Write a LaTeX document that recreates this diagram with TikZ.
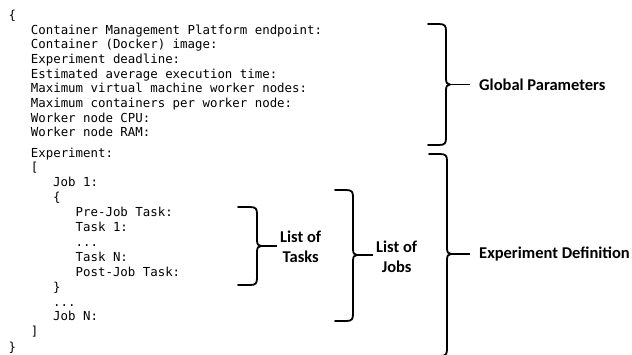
\documentclass[tikz,border=0pt]{standalone}
\usepackage{fontspec}
\newfontfamily\codefont{DejaVu Sans Mono}
\newfontfamily\labelfont{Carlito}
\tikzset{
  code/.style={anchor=west, inner sep=0pt, font=\codefont\fontsize{12.4}{14}\selectfont, text height=8pt, text depth=0pt, text=black},
  lbl/.style={inner sep=0pt, font=\labelfont\bfseries\fontsize{16.5}{20}\selectfont, align=center},
  brc/.style={line width=1.8pt, line cap=round, line join=round},
  tick/.style={line width=1.8pt},
}
% #1 left x, #2 vertical x, #3 top y, #4 middle y, #5 bottom y, #6 tip name
\newcommand\drawbrace[6]{%
  \draw[brc] (#1,#3) -- ({#2-7},#3) .. controls ({#2-1},#3) and (#2,{#3+2}) .. (#2,{#3+7})
    -- (#2,{#4-6}) .. controls (#2,{#4-2}) and ({#2+1},#4) .. ({#2+4},#4)
    .. controls ({#2+1},#4) and (#2,{#4+2}) .. (#2,{#4+6})
    -- (#2,{#5-7}) .. controls (#2,{#5-2}) and ({#2-1},#5) .. ({#2-7},#5) -- (#1,#5);
  \coordinate (#6) at ({#2+3},#4);
}
\begin{document}
\begin{tikzpicture}[x=1pt,y=-1pt]
\useasboundingbox (0,0) rectangle (632,354);
\clip (0,0) rectangle (632,354);
% code text
\node[code] (c0) at (8.4,15.5) {\{};
\node[code] (c1) at (30.7,30) {Container Management Platform endpoint:};
\node[code] (c2) at (30.7,44.7) {Container (Docker) image:};
\node[code] (c3) at (30.7,59.4) {Experiment deadline:};
\node[code] (c4) at (30.7,74.1) {Estimated average execution time:};
\node[code] (c5) at (30.7,88.8) {Maximum virtual machine worker nodes:};
\node[code] (c6) at (30.7,103.5) {Maximum containers per worker node:};
\node[code] (c7) at (30.7,118.2) {Worker node CPU:};
\node[code] (c8) at (30.7,132.9) {Worker node RAM:};
\node[code] (c9) at (30.7,153) {Experiment:};
\node[code] (c10) at (30.7,167.9) {[};
\node[code] (c11) at (53,182.8) {Job 1:};
\node[code] (c12) at (53,197.7) {\{};
\node[code] (c13) at (75.5,212.6) {Pre-Job Task:};
\node[code] (c14) at (75.5,227.5) {Task 1:};
\node[code] (c15) at (75.5,242.4) {...};
\node[code] (c16) at (75.5,257.3) {Task N:};
\node[code] (c17) at (75.5,272.2) {Post-Job Task:};
\node[code] (c18) at (53,287.1) {\}};
\node[code] (c19) at (53,302) {...};
\node[code] (c20) at (53,316.9) {Job N:};
\node[code] (c21) at (30.7,331.8) {]};
\node[code] (c22) at (8.4,347.5) {\}};
% braces
\drawbrace{428}{446}{24}{84.5}{145}{gtip}
\drawbrace{429}{447}{154}{254}{356}{etip}
\drawbrace{335}{353}{190}{255}{321}{jtip}
\drawbrace{238}{257}{207}{246}{285}{ttip}
% labels
\node[lbl, anchor=west] (glabel) at (479,85) {Global Parameters};
\node[lbl, anchor=west] (elabel) at (479,254) {Experiment Definition};
\node[lbl, anchor=west] (jlabel) at (376,257) {List of\\Jobs};
\node[lbl, anchor=west] (tlabel) at (280,247) {List of\\Tasks};
% connectors
\draw[tick, shorten >=9pt] (gtip) -- (gtip -| glabel.west);
\draw[tick, shorten >=9pt] (etip) -- (etip -| elabel.west);
\draw[tick, shorten >=3pt] (jtip) -- (jtip -| jlabel.west);
\draw[tick, shorten >=3pt] (ttip) -- (ttip -| tlabel.west);
\end{tikzpicture}
\end{document}
